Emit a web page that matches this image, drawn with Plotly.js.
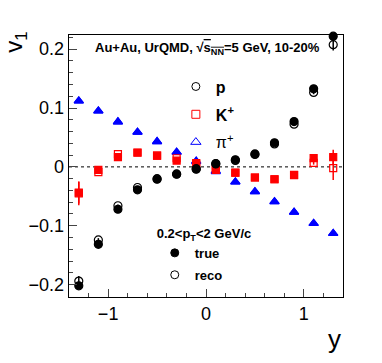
<!DOCTYPE html>
<html>
<head>
<meta charset="utf-8">
<script src="https://cdn.plot.ly/plotly-3.0.1.min.js"></script>
<style>
  body { margin: 0; background: #fff; }
  #chart { width: 382px; height: 363px; }
</style>
</head>
<body>
<div id="chart"></div>
<script>
const rapidity = [-1.3, -1.1, -0.9, -0.7, -0.5, -0.3, -0.1, 0.1, 0.3, 0.5, 0.7, 0.9, 1.1, 1.3]

// protons
const pTrue = [-0.202, -0.1315, -0.072, -0.039, -0.021, -0.0125, -0.004, 0.0056, 0.012, 0.022, 0.041, 0.077, 0.1326, 0.222]
const pTrueErr = [0.005, 0.002, 0.002, 0.002, 0.002, 0.002, 0.002, 0.002, 0.002, 0.002, 0.002, 0.002, 0.003, 0.006]
const pReco = [-0.194, -0.124, -0.066, -0.035, -0.02, -0.012, -0.003, 0.005, 0.011, 0.021, 0.039, 0.0726, 0.1264, 0.2075]
const pRecoErr = [0.0085, 0.003, 0.002, 0.002, 0.002, 0.002, 0.002, 0.002, 0.002, 0.002, 0.002, 0.002, 0.003, 0.01]

// kaons
const kTrue = [-0.0437, -0.005, 0.0165, 0.0244, 0.019, 0.0107, 0.0063, -0.005, -0.0097, -0.018, -0.021, -0.0136, 0.0148, 0.0165]
const kTrueErr = [0.0185, 0.003, 0.002, 0.002, 0.002, 0.002, 0.002, 0.002, 0.002, 0.002, 0.002, 0.002, 0.003, 0.0125]
const kReco = [-0.045, -0.009, 0.0215, 0.024, 0.019, 0.0147, 0.005, -0.002, -0.01, -0.018, -0.021, -0.014, 0.0068, -0.0022]
const kRecoErr = [0.02, 0.003, 0.002, 0.002, 0.002, 0.002, 0.002, 0.002, 0.002, 0.002, 0.002, 0.002, 0.003, 0.02]

// pions
const piTrue = [0.112, 0.095, 0.0765, 0.059, 0.043, 0.025, 0.010, -0.008, -0.0255, -0.042, -0.059, -0.077, -0.096, -0.113]
const piReco = [0.112, 0.095, 0.0765, 0.059, 0.043, 0.025, 0.009, -0.0068, -0.0255, -0.042, -0.059, -0.077, -0.096, -0.113]
const piErr = [0.002, 0.002, 0.002, 0.002, 0.002, 0.002, 0.002, 0.002, 0.002, 0.002, 0.002, 0.002, 0.002, 0.002]

const font = "Liberation Sans, Arial, Helvetica, sans-serif"

function errBars (arr, color) {
    return { type: "data", array: arr, visible: true, color: color, thickness: 1.5, width: 0 }
}

function series (y, err, name, symbol, color, size) {
    return {
        x: rapidity, y: y, type: "scatter", mode: "markers", name: name,
        marker: { symbol: symbol, color: color, size: size, line: { color: color, width: 1.2 } },
        error_y: errBars(err, color),
        showlegend: false, cliponaxis: false
    }
}

let traces = [
    series(piReco, piErr, "piReco", "triangle-up-open", "#0000ff", 8),
    series(piTrue, piErr, "piTrue", "triangle-up", "#0000ff", 8),
    series(kTrue, kTrueErr, "kTrue", "square", "#ff0000", 7),
    series(kReco, kRecoErr, "kReco", "square-open", "#ff0000", 7),
    series(pTrue, pTrueErr, "pTrue", "circle", "#000000", 8),
    series(pReco, pRecoErr, "pReco", "circle-open", "#000000", 8)
]

// legend entries (no data)
function legendEntry (name, symbol, color, size, legend) {
    return {
        x: [null], y: [null], type: "scatter", mode: "markers", name: name,
        marker: { symbol: symbol, color: color, size: size, line: { color: color, width: 1 } },
        legend: legend, legendgroup: name, showlegend: true
    }
}
traces.push(legendEntry("<b>p</b>", "circle-open", "#000000", 8, "legend"))
traces.push(legendEntry("<b>K<sup>+</sup></b>", "square-open", "#ff0000", 8, "legend"))
traces.push(legendEntry("π<sup>+</sup>", "triangle-up-open", "#0000ff", 9, "legend"))
traces.push(legendEntry("<b>true</b>", "circle", "#000000", 8, "legend2"))
traces.push(legendEntry("<b>reco</b>", "circle-open", "#000000", 8, "legend2"))

let layout = {
    width: 382, height: 363,
    margin: { l: 69, r: 39, t: 35, b: 66 },
    paper_bgcolor: "#ffffff", plot_bgcolor: "#ffffff",
    font: { family: font, color: "#000000" },
    showlegend: true,
    xaxis: {
        range: [-1.4, 1.4], dtick: 1, tick0: 0, ticks: "inside", ticklen: 8, tickwidth: 1,
        minor: { dtick: 0.2, ticks: "inside", ticklen: 4, tickwidth: 1 },
        showgrid: false, zeroline: false, showline: true, mirror: true, linecolor: "#000", linewidth: 1.3,
        tickfont: { size: 18, family: font }
    },
    yaxis: {
        range: [-0.221, 0.224], dtick: 0.1, tick0: 0, ticks: "inside", ticklen: 8, tickwidth: 1,
        minor: { dtick: 0.02, ticks: "inside", ticklen: 4, tickwidth: 1 },
        showgrid: false, zeroline: false, showline: true, mirror: true, linecolor: "#000", linewidth: 1.3,
        tickfont: { size: 18, family: font }
    },
    shapes: [{
        type: "line", xref: "paper", x0: 0, x1: 1, yref: "y", y0: 0, y1: 0,
        line: { color: "#000", width: 1, dash: "dot" }, layer: "below"
    }],
    annotations: [
        { text: "v<sub>1</sub>", xref: "paper", yref: "paper", x: -0.195, y: 1.02, xanchor: "center", yanchor: "top",
          textangle: -90, showarrow: false, font: { size: 24, family: font } },
        { text: "y", xref: "paper", yref: "paper", x: 1.0, y: -0.16, xanchor: "right", yanchor: "middle",
          showarrow: false, font: { size: 26, family: font } },
        { text: "<b>Au+Au, UrQMD, √<span style=\"text-decoration:overline\">s<sub>NN</sub></span>=5 GeV, 10-20%</b>",
          xref: "paper", yref: "paper", x: 0.507, y: 0.948, xanchor: "center", yanchor: "middle",
          showarrow: false, font: { size: 13, family: font } }
    ],
    legend: {
        x: 0.39, y: 0.868, xanchor: "left", yanchor: "top", bgcolor: "rgba(0,0,0,0)",
        font: { size: 16, family: font }, tracegroupgap: 4, itemwidth: 30
    },
    legend2: {
        x: 0.313, y: 0.29, xanchor: "left", yanchor: "top", bgcolor: "rgba(0,0,0,0)",
        font: { size: 13, family: font }, tracegroupgap: 2, itemwidth: 30,
        title: { text: "<b>0.2<p<sub>T</sub><2 GeV/c</b>", side: "top", font: { size: 13, family: font } }
    }
}

Plotly.newPlot("chart", traces, layout, { staticPlot: true })
</script>
</body>
</html>
